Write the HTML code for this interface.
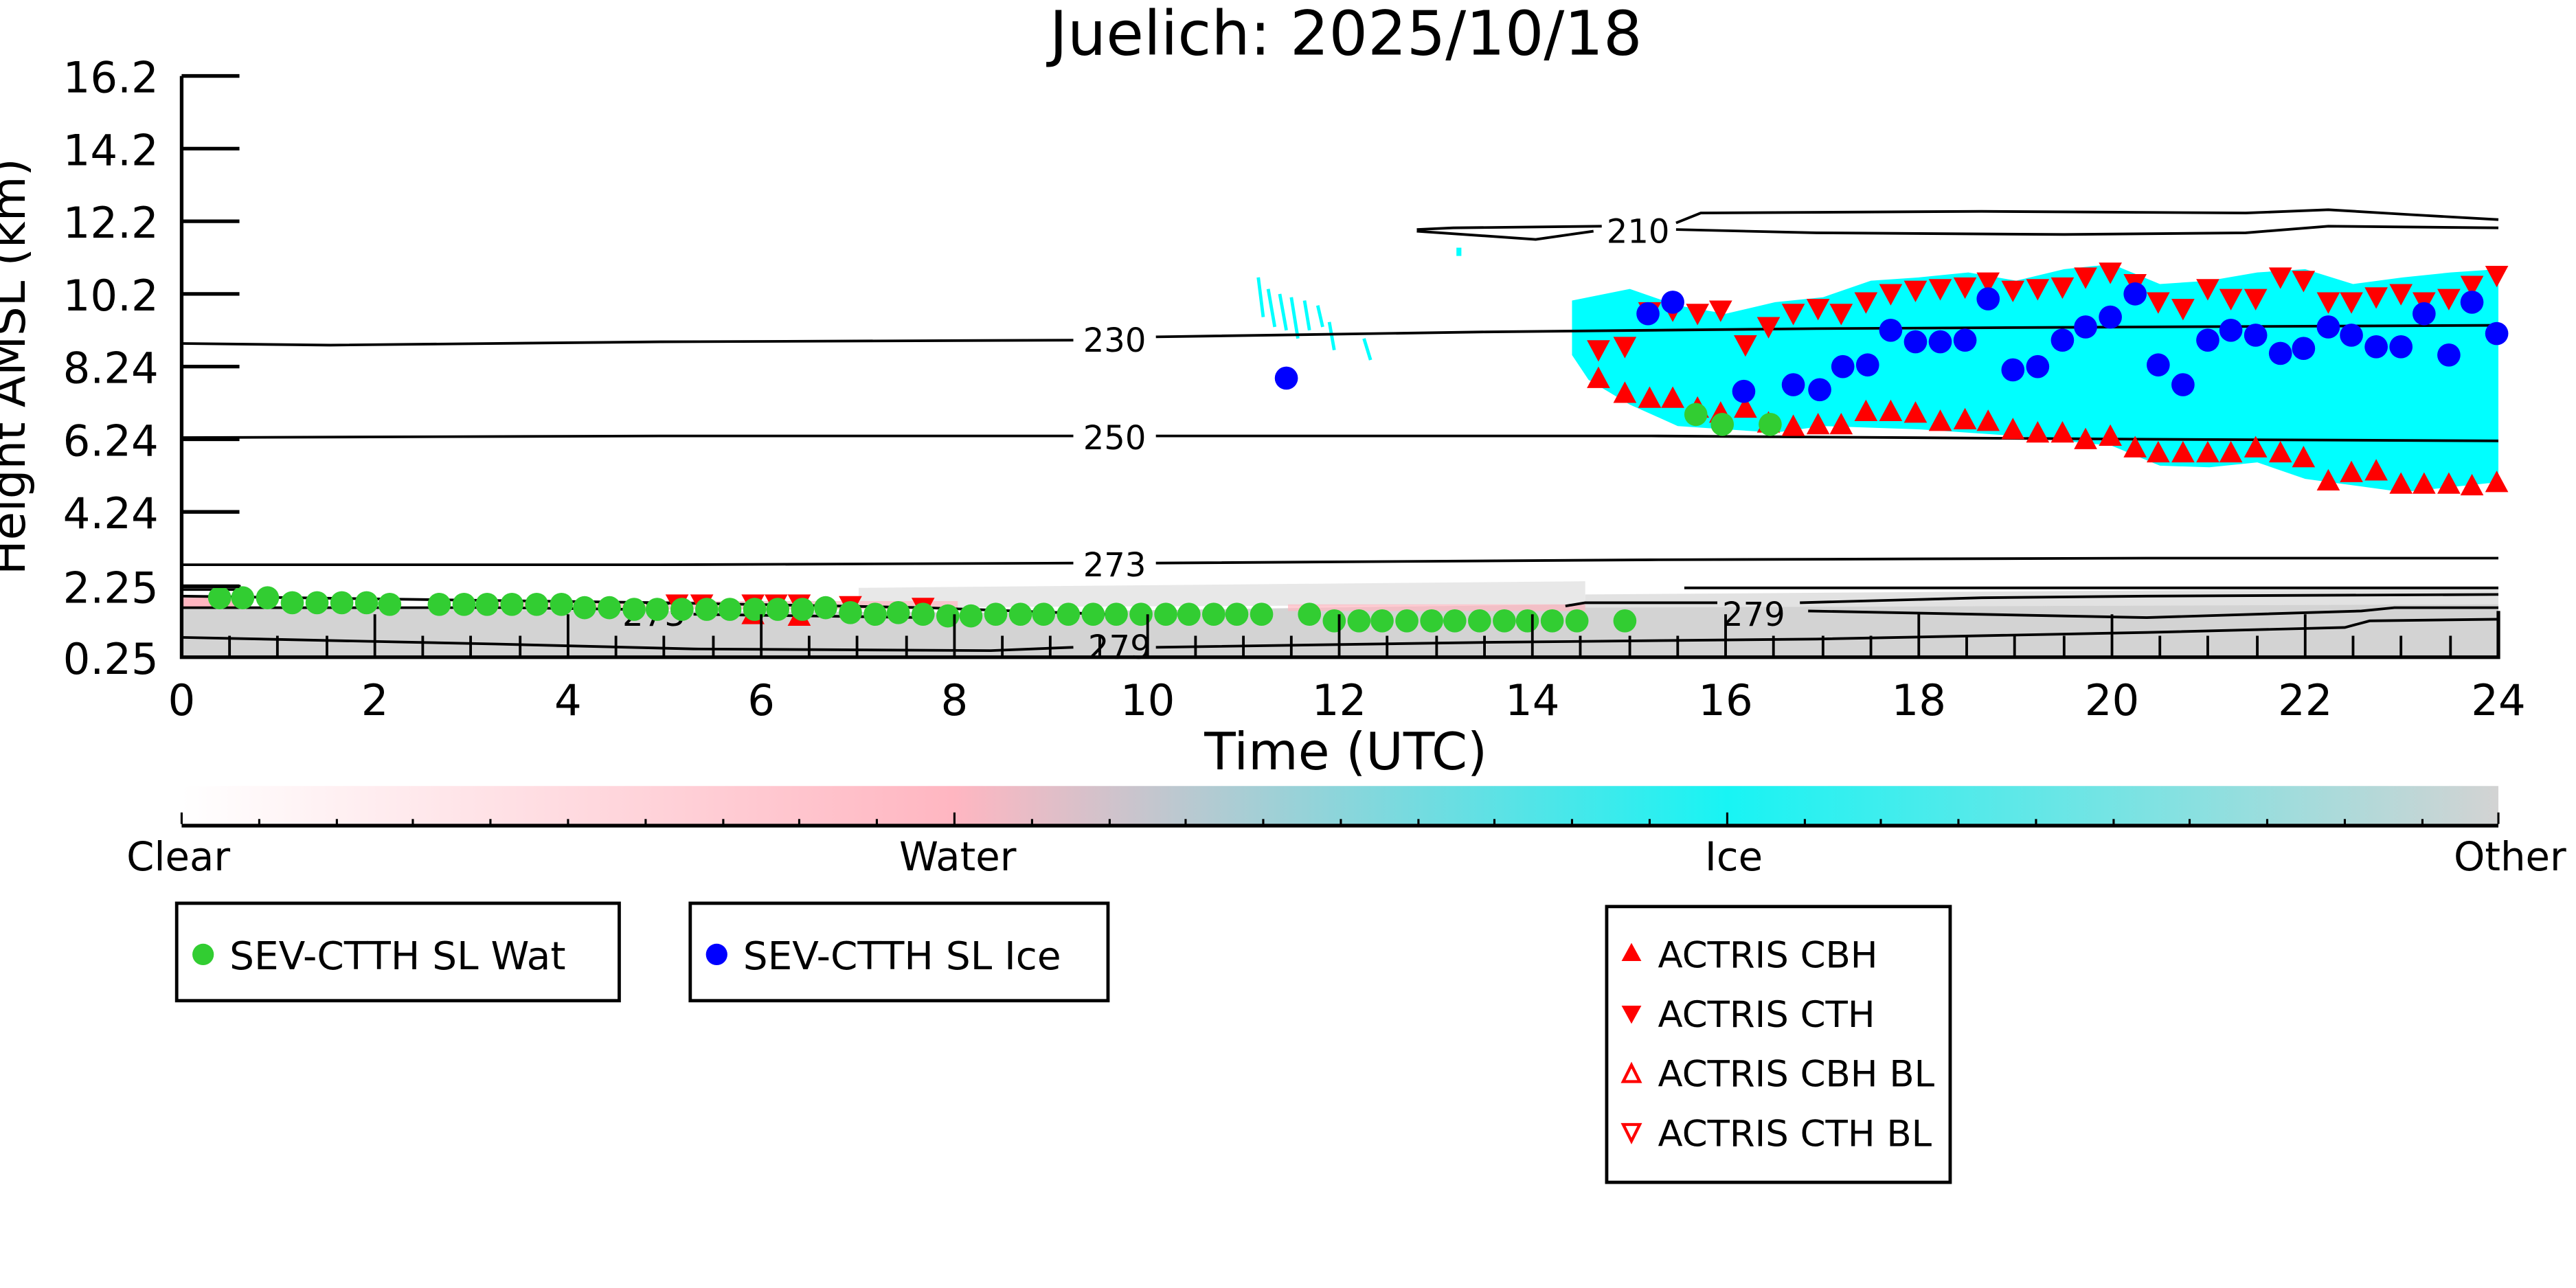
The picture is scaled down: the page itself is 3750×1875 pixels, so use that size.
<!DOCTYPE html>
<html><head><meta charset="utf-8"><style>html,body{margin:0;padding:0;background:#fff}svg{display:block}</style></head>
<body>
<svg xmlns="http://www.w3.org/2000/svg" width="3750" height="1875" viewBox="0 0 1560 780" font-family="DejaVu Sans, Liberation Sans, sans-serif">
<defs>
<linearGradient id="cb" x1="0" x2="1" y1="0" y2="0">
<stop offset="0" stop-color="#ffffff"/>
<stop offset="0.333" stop-color="#ffb6c1"/>
<stop offset="0.667" stop-color="#18f4f4"/>
<stop offset="1" stop-color="#d3d3d3"/>
</linearGradient>
<g id="tu"><path d="M0,-7 L7,6 L-7,6 Z" fill="#f00"/></g>
<g id="td"><path d="M0,7 L7,-6 L-7,-6 Z" fill="#f00"/></g>
</defs>
<rect width="1560" height="780" fill="#fff"/>
<text x="815" y="33" font-size="37" text-anchor="middle">Juelich: 2025/10/18</text>

<!-- ground gray -->
<path d="M110,368 L400,370 L600,371 L800,368 L950,366 L1100,366 L1300,365 L1513,364 L1513,398 L110,398 Z" fill="#d3d3d3"/>
<path d="M520,356 L960,352 L960,366 L520,368 Z" fill="#e8e8e8"/>
<path d="M960,360 L1513,356 L1513,366 L960,368 Z" fill="#e2e2e2"/>
<rect x="110" y="362" width="40" height="6" fill="#ffb6c1"/>
<rect x="300" y="364" width="280" height="5" fill="#ffb6c1" opacity="0.7"/>
<rect x="780" y="366" width="180" height="4" fill="#ffb6c1" opacity="0.7"/>

<!-- cyan ice -->
<path d="M952,182 L987,175 L1016,185 L1045,190 L1075,183 L1104,180 L1133,170 L1162,168 L1192,165 L1221,170 L1250,163 L1279,160 L1308,172 L1338,170 L1367,165 L1396,163 L1425,172 L1455,168 L1484,165 L1513,163 L1513,292 L1455,298 L1396,290 L1367,280 L1338,283 L1308,282 L1279,270 L1221,264 L1162,260 L1104,258 L1075,262 L1045,260 L1016,258 L987,245 L962,230 L952,215 Z" fill="#00ffff"/>
<g stroke="#00ffff" stroke-width="2">
<path d="M762,168 L765,192 M768,175 L772,198 M775,178 L779,200 M782,180 L786,205 M790,182 L793,200 M798,185 L801,198 M805,195 L808,212 M826,205 L830,218"/>
</g>
<rect x="882" y="150" width="3" height="5" fill="#00ffff"/>

<!-- contours -->
<g fill="none" stroke="#000" stroke-width="1.6">
<path d="M110,208 L200,209 L400,207 L650,206"/><path d="M700,204 L900,201 L1100,199 L1300,198 L1513,197"/>
<path d="M110,265 L400,264 L650,264"/><path d="M700,264 L1000,264 L1300,266 L1513,267"/>
<path d="M110,342 L400,342 L650,341"/><path d="M700,341 L1000,339 L1300,338 L1513,338"/>
<path d="M858,139 L880,138 L970,137"/><path d="M858,140 L930,145 L965,140"/>
<path d="M1015,135 L1030,129 L1200,128 L1360,129 L1410,127 L1460,130 L1513,133"/>
<path d="M1015,139 L1100,141 L1250,142 L1360,141 L1410,137 L1513,138"/>
<path d="M110,355 L145,355 L145,357 L110,357"/>
<path d="M110,361 L250,363 L400,365 L560,368 L670,372"/>
<path d="M110,368 L300,368 L380,369"/>
<path d="M420,372 L560,374"/>
<path d="M110,386 L300,390 L420,393 L600,394 L650,392"/>
<path d="M700,392 L900,389 L1100,387 L1300,383 L1420,380 L1435,376 L1513,375"/>
<path d="M948,367 L960,365 L1040,365"/><path d="M1090,365 L1200,362 L1300,361 L1513,360"/>
<path d="M1095,370 L1300,374 L1430,370 L1450,368 L1513,368"/>
<path d="M1020,356 L1200,356 L1513,356"/>
</g>
<g font-size="20" text-anchor="middle">
<text x="675" y="213">230</text>
<text x="675" y="272">250</text>
<text x="675" y="349">273</text>
<text x="992" y="147">210</text>
<text x="396" y="379">273</text>
<text x="678" y="399">279</text>
<text x="1062" y="379">279</text>
</g>

<!-- red left triangles -->
<g>
<use href="#td" x="410" y="366"/><use href="#td" x="425" y="366"/><use href="#tu" x="456" y="372"/><use href="#td" x="456" y="366"/><use href="#td" x="470" y="366"/><use href="#td" x="484" y="366"/><use href="#tu" x="484" y="373"/><use href="#td" x="515" y="367"/><use href="#td" x="559" y="368"/>
</g>
<!-- CTH -->
<g>
<use href="#td" x="968" y="212"/><use href="#td" x="984" y="210"/><use href="#td" x="999" y="189"/><use href="#td" x="1013" y="188"/><use href="#td" x="1028" y="190"/><use href="#td" x="1042" y="188"/><use href="#td" x="1057" y="209"/><use href="#td" x="1071" y="198"/><use href="#td" x="1086" y="190"/><use href="#td" x="1101" y="187"/><use href="#td" x="1115" y="190"/><use href="#td" x="1130" y="183"/><use href="#td" x="1145" y="178"/><use href="#td" x="1160" y="176"/><use href="#td" x="1175" y="175"/><use href="#td" x="1190" y="174"/><use href="#td" x="1204" y="171"/><use href="#td" x="1219" y="176"/><use href="#td" x="1234" y="175"/><use href="#td" x="1249" y="174"/><use href="#td" x="1263" y="168"/><use href="#td" x="1278" y="165"/><use href="#td" x="1293" y="172"/><use href="#td" x="1307" y="183"/><use href="#td" x="1322" y="187"/><use href="#td" x="1337" y="175"/><use href="#td" x="1351" y="181"/><use href="#td" x="1366" y="181"/><use href="#td" x="1381" y="168"/><use href="#td" x="1395" y="170"/><use href="#td" x="1410" y="183"/><use href="#td" x="1424" y="183"/><use href="#td" x="1439" y="180"/><use href="#td" x="1454" y="178"/><use href="#td" x="1468" y="183"/><use href="#td" x="1483" y="181"/><use href="#td" x="1497" y="173"/><use href="#td" x="1512" y="167"/>
</g>
<!-- CBH -->
<g>
<use href="#tu" x="968" y="229"/><use href="#tu" x="984" y="238"/><use href="#tu" x="999" y="241"/><use href="#tu" x="1013" y="241"/><use href="#tu" x="1028" y="247"/><use href="#tu" x="1042" y="250"/><use href="#tu" x="1057" y="247"/><use href="#tu" x="1071" y="256"/><use href="#tu" x="1086" y="258"/><use href="#tu" x="1101" y="257"/><use href="#tu" x="1115" y="257"/><use href="#tu" x="1130" y="249"/><use href="#tu" x="1145" y="249"/><use href="#tu" x="1160" y="250"/><use href="#tu" x="1175" y="255"/><use href="#tu" x="1190" y="254"/><use href="#tu" x="1204" y="255"/><use href="#tu" x="1219" y="260"/><use href="#tu" x="1234" y="262"/><use href="#tu" x="1249" y="262"/><use href="#tu" x="1263" y="266"/><use href="#tu" x="1278" y="264"/><use href="#tu" x="1293" y="271"/><use href="#tu" x="1307" y="274"/><use href="#tu" x="1322" y="274"/><use href="#tu" x="1337" y="274"/><use href="#tu" x="1351" y="274"/><use href="#tu" x="1366" y="271"/><use href="#tu" x="1381" y="274"/><use href="#tu" x="1395" y="277"/><use href="#tu" x="1410" y="291"/><use href="#tu" x="1424" y="286"/><use href="#tu" x="1439" y="285"/><use href="#tu" x="1454" y="293"/><use href="#tu" x="1468" y="293"/><use href="#tu" x="1483" y="293"/><use href="#tu" x="1497" y="294"/><use href="#tu" x="1512" y="292"/>
</g>
<!-- blue -->
<g fill="#0000ff">
<circle cx="779" cy="229" r="7"/><circle cx="998" cy="190" r="7"/><circle cx="1013" cy="183" r="7"/><circle cx="1056" cy="237" r="7"/><circle cx="1086" cy="233" r="7"/><circle cx="1102" cy="236" r="7"/><circle cx="1116" cy="222" r="7"/><circle cx="1131" cy="221" r="7"/><circle cx="1145" cy="200" r="7"/><circle cx="1160" cy="207" r="7"/><circle cx="1175" cy="207" r="7"/><circle cx="1190" cy="206" r="7"/><circle cx="1204" cy="181" r="7"/><circle cx="1219" cy="224" r="7"/><circle cx="1234" cy="222" r="7"/><circle cx="1249" cy="206" r="7"/><circle cx="1263" cy="198" r="7"/><circle cx="1278" cy="192" r="7"/><circle cx="1293" cy="178" r="7"/><circle cx="1307" cy="221" r="7"/><circle cx="1322" cy="233" r="7"/><circle cx="1337" cy="206" r="7"/><circle cx="1351" cy="200" r="7"/><circle cx="1366" cy="203" r="7"/><circle cx="1381" cy="214" r="7"/><circle cx="1395" cy="211" r="7"/><circle cx="1410" cy="198" r="7"/><circle cx="1424" cy="203" r="7"/><circle cx="1439" cy="210" r="7"/><circle cx="1454" cy="210" r="7"/><circle cx="1468" cy="190" r="7"/><circle cx="1483" cy="215" r="7"/><circle cx="1497" cy="183" r="7"/><circle cx="1512" cy="202" r="7"/>
</g>
<!-- green -->
<g fill="#32cd32">
<circle cx="1027" cy="251" r="7"/><circle cx="1043" cy="257" r="7"/><circle cx="1072" cy="257" r="7"/>
<circle cx="133" cy="362" r="7"/><circle cx="147" cy="362" r="7"/><circle cx="162" cy="362" r="7"/><circle cx="177" cy="365" r="7"/><circle cx="192" cy="365" r="7"/><circle cx="207" cy="365" r="7"/><circle cx="222" cy="365" r="7"/><circle cx="236" cy="366" r="7"/><circle cx="266" cy="366" r="7"/><circle cx="281" cy="366" r="7"/><circle cx="295" cy="366" r="7"/><circle cx="310" cy="366" r="7"/><circle cx="325" cy="366" r="7"/><circle cx="340" cy="366" r="7"/><circle cx="354" cy="368" r="7"/><circle cx="369" cy="368" r="7"/><circle cx="384" cy="369" r="7"/><circle cx="398" cy="369" r="7"/><circle cx="413" cy="369" r="7"/><circle cx="428" cy="369" r="7"/><circle cx="442" cy="369" r="7"/><circle cx="457" cy="369" r="7"/><circle cx="471" cy="369" r="7"/><circle cx="486" cy="369" r="7"/><circle cx="500" cy="368" r="7"/><circle cx="515" cy="371" r="7"/><circle cx="530" cy="372" r="7"/><circle cx="544" cy="371" r="7"/><circle cx="559" cy="372" r="7"/><circle cx="574" cy="373" r="7"/><circle cx="588" cy="373" r="7"/><circle cx="603" cy="372" r="7"/><circle cx="618" cy="372" r="7"/><circle cx="632" cy="372" r="7"/><circle cx="647" cy="372" r="7"/><circle cx="662" cy="372" r="7"/><circle cx="676" cy="372" r="7"/><circle cx="691" cy="372" r="7"/><circle cx="706" cy="372" r="7"/><circle cx="720" cy="372" r="7"/><circle cx="735" cy="372" r="7"/><circle cx="749" cy="372" r="7"/><circle cx="764" cy="372" r="7"/><circle cx="793" cy="372" r="7"/><circle cx="808" cy="376" r="7"/><circle cx="823" cy="376" r="7"/><circle cx="837" cy="376" r="7"/><circle cx="852" cy="376" r="7"/><circle cx="867" cy="376" r="7"/><circle cx="881" cy="376" r="7"/><circle cx="896" cy="376" r="7"/><circle cx="911" cy="376" r="7"/><circle cx="925" cy="376" r="7"/><circle cx="940" cy="376" r="7"/><circle cx="955" cy="376" r="7"/><circle cx="984" cy="376" r="7"/>
</g>

<!-- axes -->
<g stroke="#000" stroke-width="2.2" fill="none">
<path d="M110,46 L110,398 L1513,398 L1513,370"/>
<path d="M110,46 H145 M110,90 H145 M110,134 H145 M110,178 H145 M110,222 H145 M110,266 H145 M110,310 H145 M110,355 H145"/>
</g>
<g stroke="#000" stroke-width="1.6">
<path d="M110,398 V372 M227,398 V372 M344,398 V372 M461,398 V372 M578,398 V372 M695,398 V372 M811,398 V372 M928,398 V372 M1045,398 V372 M1162,398 V372 M1279,398 V372 M1396,398 V372"/>
<path d="M139,398 V385 M168,398 V385 M198,398 V385 M256,398 V385 M285,398 V385 M315,398 V385 M373,398 V385 M402,398 V385 M432,398 V385 M490,398 V385 M519,398 V385 M549,398 V385 M607,398 V385 M636,398 V385 M666,398 V385 M724,398 V385 M753,398 V385 M782,398 V385 M840,398 V385 M870,398 V385 M899,398 V385 M957,398 V385 M987,398 V385 M1016,398 V385 M1074,398 V385 M1104,398 V385 M1133,398 V385 M1191,398 V385 M1220,398 V385 M1250,398 V385 M1308,398 V385 M1337,398 V385 M1367,398 V385 M1425,398 V385 M1454,398 V385 M1484,398 V385"/>
</g>
<g font-size="26" text-anchor="end">
<text x="96" y="56">16.2</text><text x="96" y="100">14.2</text><text x="96" y="144">12.2</text><text x="96" y="188">10.2</text><text x="96" y="232">8.24</text><text x="96" y="276">6.24</text><text x="96" y="320">4.24</text><text x="96" y="365">2.25</text><text x="96" y="408">0.25</text>
</g>
<g font-size="26" text-anchor="middle">
<text x="110" y="433">0</text><text x="227" y="433">2</text><text x="344" y="433">4</text><text x="461" y="433">6</text><text x="578" y="433">8</text><text x="695" y="433">10</text><text x="811" y="433">12</text><text x="928" y="433">14</text><text x="1045" y="433">16</text><text x="1162" y="433">18</text><text x="1279" y="433">20</text><text x="1396" y="433">22</text><text x="1513" y="433">24</text>
</g>
<text x="815" y="466" font-size="31" text-anchor="middle">Time (UTC)</text>
<text transform="translate(15,222) rotate(-90)" font-size="28" text-anchor="middle">Height AMSL (km)</text>

<!-- colorbar -->
<rect x="110" y="476" width="1403" height="23" fill="url(#cb)"/>
<g stroke="#000" stroke-width="1.3">
<path d="M110,500 H1513" stroke-width="2.2"/>
<path d="M110,499 V492 M157,499 V496 M204,499 V496 M250,499 V496 M297,499 V496 M344,499 V496 M391,499 V496 M438,499 V496 M484,499 V496 M531,499 V496 M578,499 V492 M625,499 V496 M672,499 V496 M718,499 V496 M765,499 V496 M812,499 V496 M859,499 V496 M905,499 V496 M952,499 V496 M999,499 V496 M1046,499 V492 M1093,499 V496 M1139,499 V496 M1186,499 V496 M1233,499 V496 M1280,499 V496 M1326,499 V496 M1373,499 V496 M1420,499 V496 M1467,499 V496 M1513,499 V492"/>
</g>
<g font-size="24" text-anchor="middle">
<text x="108" y="527">Clear</text><text x="580" y="527">Water</text><text x="1050" y="527">Ice</text><text x="1520" y="527">Other</text>
</g>

<!-- legends -->
<g fill="none" stroke="#000" stroke-width="2">
<rect x="107" y="547" width="268" height="59"/>
<rect x="418" y="547" width="253" height="59"/>
<rect x="973" y="549" width="208" height="167"/>
</g>
<circle cx="123" cy="578" r="6.5" fill="#32cd32"/>
<circle cx="434" cy="578" r="6.5" fill="#0000ff"/>
<g font-size="23.5">
<text x="139" y="587">SEV-CTTH SL Wat</text>
<text x="450" y="587">SEV-CTTH SL Ice</text>
</g>
<g font-size="22">
<text x="1004" y="586">ACTRIS CBH</text>
<text x="1004" y="622">ACTRIS CTH</text>
<text x="1004" y="658">ACTRIS CBH BL</text>
<text x="1004" y="694">ACTRIS CTH BL</text>
</g>
<path d="M988,571 L994,582 L982,582 Z" fill="#f00"/>
<path d="M988,620 L994,609 L982,609 Z" fill="#f00"/>
<path d="M988,645 L993,655 L983,655 Z" fill="none" stroke="#f00" stroke-width="1.8"/>
<path d="M988,691 L993,681 L983,681 Z" fill="none" stroke="#f00" stroke-width="1.8"/>
</svg>
</body></html>
